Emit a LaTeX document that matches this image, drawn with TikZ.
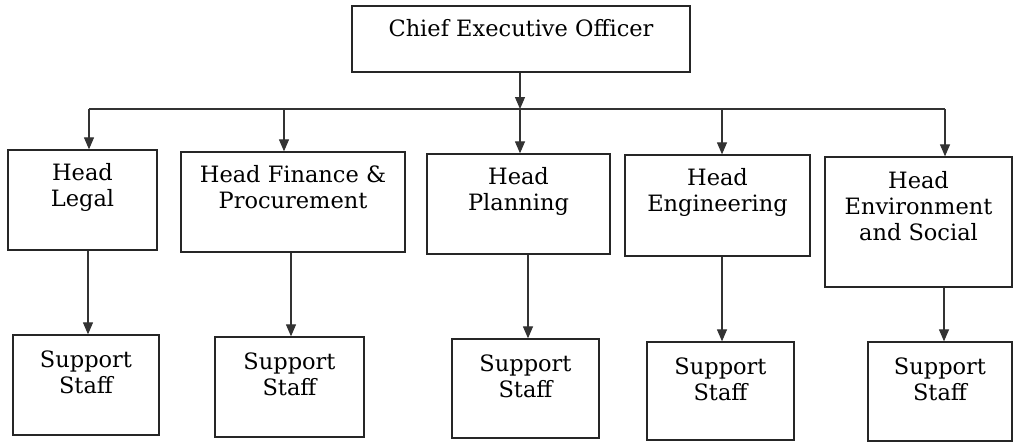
\documentclass[tikz,border=0pt]{standalone}
\usepackage{fontspec}
\setmainfont{DejaVu Serif}
\usetikzlibrary{arrows.meta,positioning}

\begin{document}
\begin{tikzpicture}[x=1pt,y=-1pt,
  box/.style={draw=black!85,line width=1.3pt,inner sep=0pt},
  txt/.style={align=center,inner sep=0pt,font=\fontsize{22.5}{26}\selectfont},
  arr/.style={-{Triangle[length=12pt,width=10pt]},line width=1.2pt,black!80}]
\useasboundingbox (0,0) rectangle (1016,444);
% top
\node[box,minimum width=338,minimum height=66] (ceo) at (521,39) {};
\node[txt,below=14pt of ceo.north] (ceo-t) {Chief Executive Officer};
% heads
\node[box,minimum width=149,minimum height=100] (legal) at (82.5,200) {};
\node[box,minimum width=224,minimum height=100] (fin) at (293,202) {};
\node[box,minimum width=183,minimum height=100] (plan) at (518.5,204) {};
\node[box,minimum width=185,minimum height=101] (eng) at (717.5,205.5) {};
\node[box,minimum width=187,minimum height=130] (env) at (918.5,222) {};
\node[txt,below=14pt of legal.north] (legal-t) {Head\\Legal};
\node[txt,below=14pt of fin.north] (fin-t) {Head Finance \&\\Procurement};
\node[txt,below=14pt of plan.north] (plan-t) {Head\\Planning};
\node[txt,below=14pt of eng.north] (eng-t) {Head\\Engineering};
\node[txt,below=15pt of env.north] (env-t) {Head\\Environment\\and Social};
% support staff
\node[box,minimum width=146,minimum height=100] (slegal) at (86,385) {};
\node[box,minimum width=149,minimum height=100] (sfin) at (289.5,387) {};
\node[box,minimum width=147,minimum height=99] (splan) at (525.5,388.5) {};
\node[box,minimum width=147,minimum height=98] (seng) at (720.5,391) {};
\node[box,minimum width=144,minimum height=99] (senv) at (940,391.5) {};
\foreach \s in {slegal,sfin,splan,seng,senv}
  \node[txt,below=16pt of \s.north] (\s-t) {Support\\Staff};
% connectors
\coordinate (bus) at (520,109);
\draw[arr] (ceo.south -| bus) -- (bus);
\draw[line width=1.2pt,black!80] (89,0 |- bus) -- (945,0 |- bus);
\foreach \n/\x in {legal/89,fin/284,plan/520,eng/722,env/945}
  \draw[arr] (\x,0 |- bus) -- (\x,0 |- \n.north);
\foreach \h/\s/\x in {legal/slegal/88,fin/sfin/291,plan/splan/528,eng/seng/722,env/senv/944}
  \draw[arr] (\x,0 |- \h.south) -- (\x,0 |- \s.north);
\end{tikzpicture}
\end{document}
